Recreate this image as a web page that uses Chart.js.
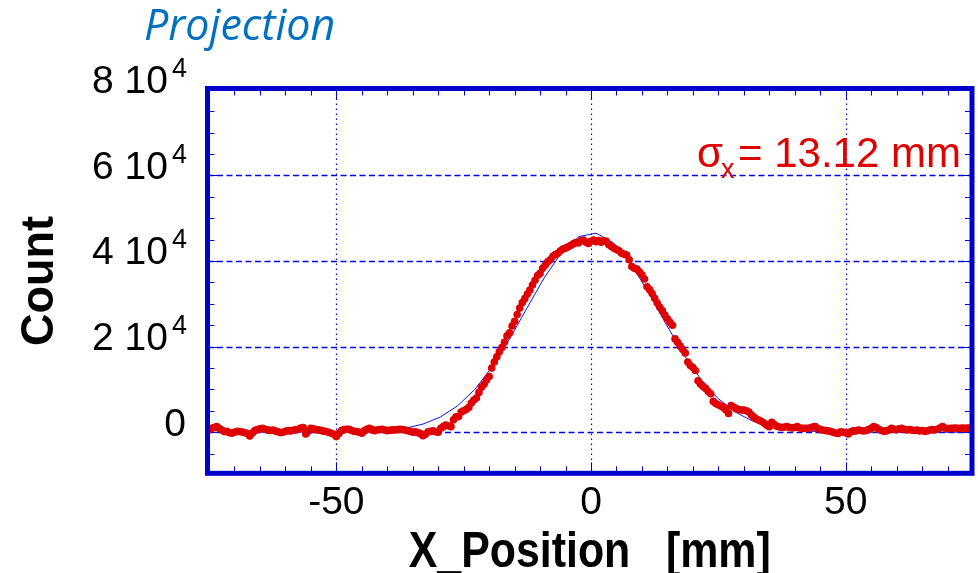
<!DOCTYPE html>
<html><head><meta charset="utf-8">
<script src="https://cdn.jsdelivr.net/npm/chart.js@4.4.0/dist/chart.umd.min.js"></script>
<style>html,body{margin:0;padding:0;background:#fff;overflow:hidden}</style>
</head><body>
<canvas id="c" width="978" height="573"></canvas>
<script>
// ---- data ----
const xPosition = [
-75,-74.5,-74,-73.5,-73,-72.5,-72,-71.5,-71,-70.5,
-70,-69.5,-69,-68.5,-68,-67.5,-67,-66.5,-66,-65.5,
-65,-64.5,-64,-63.5,-63,-62.5,-62,-61.5,-61,-60.5,
-60,-59.5,-59,-58.5,-58,-57.5,-57,-56.5,-56,-55.5,
-55,-54.5,-54,-53.5,-53,-52.5,-52,-51.5,-51,-50.5,
-50,-49.5,-49,-48.5,-48,-47.5,-47,-46.5,-46,-45.5,
-45,-44.5,-44,-43.5,-43,-42.5,-42,-41.5,-41,-40.5,
-40,-39.5,-39,-38.5,-38,-37.5,-37,-36.5,-36,-35.5,
-35,-34.5,-34,-33.5,-33,-32.5,-32,-31.5,-31,-30.5,
-30,-29.5,-29,-28.5,-28,-27.5,-27,-26.5,-26,-25.5,
-25,-24.5,-24,-23.5,-23,-22.5,-22,-21.5,-21,-20.5,
-20,-19.5,-19,-18.5,-18,-17.5,-17,-16.5,-16,-15.5,
-15,-14.5,-14,-13.5,-13,-12.5,-12,-11.5,-11,-10.5,
-10,-9.5,-9,-8.5,-8,-7.5,-7,-6.5,-6,-5.5,
-5,-4.5,-4,-3.5,-3,-2.5,-2,-1.5,-1,-0.5,
0,0.5,1,1.5,2,2.5,3,3.5,4,4.5,
5,5.5,6,6.5,7,7.5,8,8.5,9,9.5,
10,10.5,11,11.5,12,12.5,13,13.5,14,14.5,
15,15.5,16,16.5,17,17.5,18,18.5,19,19.5,
20,20.5,21,21.5,22,22.5,23,23.5,24,24.5,
25,25.5,26,26.5,27,27.5,28,28.5,29,29.5,
30,30.5,31,31.5,32,32.5,33,33.5,34,34.5,
35,35.5,36,36.5,37,37.5,38,38.5,39,39.5,
40,40.5,41,41.5,42,42.5,43,43.5,44,44.5,
45,45.5,46,46.5,47,47.5,48,48.5,49,49.5,
50,50.5,51,51.5,52,52.5,53,53.5,54,54.5,
55,55.5,56,56.5,57,57.5,58,58.5,59,59.5,
60,60.5,61,61.5,62,62.5,63,63.5,64,64.5,
65,65.5,66,66.5,67,67.5,68,68.5,69,69.5,
70,70.5,71,71.5,72,72.5,73,73.5,74,74.5,
75
];
const counts = [
540,900,1100,1300,900,500,140,200,-100,-230,
0,200,140,50,-90,-300,-860,-200,370,600,
800,930,700,540,400,500,300,100,-90,0,
200,370,300,450,540,700,1000,1100,-400,200,
930,800,600,540,400,250,140,0,-230,-500,
-1030,-300,370,600,700,700,400,200,140,0,
-230,300,700,930,600,370,500,650,700,500,
370,450,540,540,600,700,650,500,370,200,
0,100,-100,-300,-800,-500,100,200,300,100,
0,900,1300,1700,1500,1300,2900,3600,3650,4700,
5000,5300,5800,6800,7500,8000,9300,10500,11200,12200,
13000,15000,16400,17600,18800,19800,21000,22500,23200,24800,
25900,27500,29000,30300,31200,32300,33200,34400,35500,36600,
37100,38300,39000,39800,40300,41100,41500,41800,42400,42800,
43000,43300,43600,44000,44300,44200,44700,44900,44400,44100,
44600,44900,44500,44800,44400,44700,44600,43800,43400,43000,
42700,42400,41800,41600,41400,40300,38700,38300,38100,37500,
36800,35800,34000,33300,32400,31300,30200,29200,28400,27400,
26500,25700,25000,21800,21000,20100,19300,18500,16400,15600,
15100,14400,12000,11200,10700,10200,9500,9000,7200,6700,
6400,6100,5800,5200,4400,6200,5900,5500,5300,5200,
5200,5000,4700,4000,3500,3100,2800,2500,2100,1600,
1300,2300,1800,1400,1200,1100,1200,1300,1100,1000,
1100,1300,1000,900,900,900,1000,1200,1300,900,
600,500,400,300,200,0,-200,-300,100,0,
-100,-400,100,300,300,500,400,300,400,600,
900,1300,1100,700,400,200,300,500,900,700,
600,800,900,700,500,600,500,400,500,300,
400,200,300,500,600,500,700,1000,1300,1000,
800,900,900,1000,900,900,1000,900,950,900,
1000
];
const fitX = [-77.2,-73.8,-70.4,-67.0,-63.6,-60.2,-56.8,-53.4,-50.0,-46.6,-43.2,-39.8,-36.4,-33.0,-29.6,-26.2,-22.8,-19.4,-16.0,-12.6,-9.2,-5.8,-2.4,1.0,4.4,7.8,11.2,14.6,18.0,21.4,24.8,28.2,31.6,35.0,38.4,41.8,45.2,48.6,52.0,55.4,58.8,62.2,65.6,69.0,72.4,75.8];
const fitCounts = [0,0,0,0,0,0,4,11,30,80,196,447,951,1900,3530,6160,10020,15270,21740,28950,36050,41970,45690,46510,44270,39400,32790,25520,18570,12630,8030,4780,2660,1380,670,306,130,52,20,7,2,0,0,0,0,0];

const xTickValues = [-50, 0, 50];
const xTickLabels = ['-50', '0', '50'];
const yTickValues = [0, 20000, 40000, 60000, 80000];
const yTickLabels = ['0', '2 10', '4 10', '6 10', '8 10'];
const yTickExponents = ['', '4', '4', '4', '4'];
const chartTitle = 'Projection';
const xAxisTitle = 'X_Position   [mm]';
const yAxisTitle = 'Count';
const sigmaSymbol = 'σ', sigmaSub = 'x', sigmaValue = '= 13.12 mm';

// ---- styling ----
const BLUE = '#0000cc';
const GRID = '#0000ff';
const RED = '#e00000';

const framePlugin = {
  id: 'frame',
  beforeDatasetsDraw(chart) {
    const ctx = chart.ctx, a = chart.chartArea, xs = chart.scales.x, ys = chart.scales.y;
    ctx.save();
    ctx.strokeStyle = GRID;
    ctx.lineWidth = 1.3;
    ctx.setLineDash([6, 3.5]);
    yTickValues.forEach(v => {
      const py = Math.round(ys.getPixelForValue(v)) + 0.5;
      if (py <= a.top + 2 || py >= a.bottom - 2) return;
      ctx.beginPath(); ctx.moveTo(a.left, py); ctx.lineTo(a.right, py); ctx.stroke();
    });
    ctx.lineWidth = 1.2;
    ctx.setLineDash([1.5, 3.5]);
    xTickValues.forEach(v => {
      const px = Math.round(xs.getPixelForValue(v)) + 0.5;
      ctx.beginPath(); ctx.moveTo(px, a.top); ctx.lineTo(px, a.bottom); ctx.stroke();
    });
    ctx.setLineDash([]);
    ctx.lineWidth = 1;
    ctx.strokeStyle = BLUE;
    for (let v = -75; v <= 75; v += 5) {
      const px = Math.round(xs.getPixelForValue(v)) + 0.5;
      if (px <= a.left + 3 || px >= a.right - 3) continue;
      const len = (v % 50 === 0) ? 9 : 5;
      ctx.beginPath();
      ctx.moveTo(px, a.top); ctx.lineTo(px, a.top + 2 + len);
      ctx.moveTo(px, a.bottom); ctx.lineTo(px, a.bottom - 2 - len);
      ctx.stroke();
    }
    for (let v = -5000; v <= 80000; v += 5000) {
      const py = Math.round(ys.getPixelForValue(v)) + 0.5;
      if (py <= a.top + 3 || py >= a.bottom - 3) continue;
      const len = (v % 20000 === 0) ? 12 : 5;
      ctx.beginPath();
      ctx.moveTo(a.left, py); ctx.lineTo(a.left + 2 + len, py);
      ctx.moveTo(a.right, py); ctx.lineTo(a.right - 2 - len, py);
      ctx.stroke();
    }
    ctx.restore();
  },
  afterDatasetsDraw(chart) {
    const ctx = chart.ctx, a = chart.chartArea, xs = chart.scales.x, ys = chart.scales.y;
    ctx.save();
    ctx.strokeStyle = BLUE;
    ctx.lineWidth = 5;
    ctx.strokeRect(a.left, a.top, a.right - a.left, a.bottom - a.top);

    ctx.fillStyle = '#000';
    const TICKFONT = '39px "Liberation Sans", Arial, sans-serif';
    yTickValues.forEach((v, i) => {
      const py = ys.getPixelForValue(v) + 3.5;
      ctx.textBaseline = 'alphabetic';
      ctx.textAlign = 'right';
      if (yTickExponents[i]) {
        ctx.font = '27px "Liberation Sans", Arial, sans-serif';
        ctx.fillText(yTickExponents[i], 187, py - 16);
        ctx.font = TICKFONT;
        ctx.fillText(yTickLabels[i], 168, py);
      } else {
        ctx.font = TICKFONT;
        ctx.fillText(yTickLabels[i], 186, py);
      }
    });
    ctx.font = TICKFONT;
    ctx.textAlign = 'center';
    xTickValues.forEach((v, i) => {
      ctx.fillText(xTickLabels[i], xs.getPixelForValue(v), 514);
    });
    ctx.font = 'bold 50px "Liberation Sans", Arial, sans-serif';
    ctx.textAlign = 'center';
    ctx.fillText(xAxisTitle, (a.left + a.right) / 2, 567, 362);
    ctx.save();
    ctx.translate(53, (a.top + a.bottom) / 2);
    ctx.rotate(-Math.PI / 2);
    ctx.font = 'bold 47px "Liberation Sans", Arial, sans-serif';
    ctx.fillText(yAxisTitle, 0, 0, 130);
    ctx.restore();
    ctx.font = 'italic 43px "Open Sans", sans-serif';
    ctx.fillStyle = '#0070c0';
    ctx.textAlign = 'left';
    ctx.fillText(chartTitle, 144, 40, 193);
    ctx.fillStyle = RED;
    ctx.font = '42px "Liberation Sans", Arial, sans-serif';
    ctx.fillText(sigmaSymbol, 697, 167);
    const sw = ctx.measureText(sigmaSymbol).width;
    ctx.font = '27px "Liberation Sans", Arial, sans-serif';
    ctx.fillText(sigmaSub, 697 + sw - 2, 178);
    ctx.font = '42px "Liberation Sans", Arial, sans-serif';
    ctx.fillText(sigmaValue, 738, 167, 224);
    ctx.restore();
  }
};

new Chart(document.getElementById('c'), {
  type: 'scatter',
  data: {
    datasets: [
      {
        label: 'Projection',
        data: xPosition.map((x, i) => ({ x: x, y: counts[i] })),
        pointRadius: 3.8,
        pointBorderWidth: 0,
        pointBackgroundColor: RED,
        showLine: false
      },
      {
        label: 'Fit',
        data: fitX.map((x, i) => ({ x: x, y: fitCounts[i] })),
        showLine: true,
        borderColor: '#1414e6',
        borderWidth: 1,
        pointRadius: 0,
        tension: 0,
        fill: false
      }
    ]
  },
  options: {
    responsive: false,
    animation: false,
    devicePixelRatio: 1,
    layout: { padding: { left: 207.5, right: 6, top: 88.5, bottom: 99.7 } },
    plugins: { legend: { display: false }, title: { display: false }, tooltip: { enabled: false } },
    events: [],
    scales: {
      x: { type: 'linear', min: -75.3, max: 74.8, display: false },
      y: { type: 'linear', min: -9600, max: 80300, display: false }
    }
  },
  plugins: [framePlugin]
});
</script>
</body></html>
